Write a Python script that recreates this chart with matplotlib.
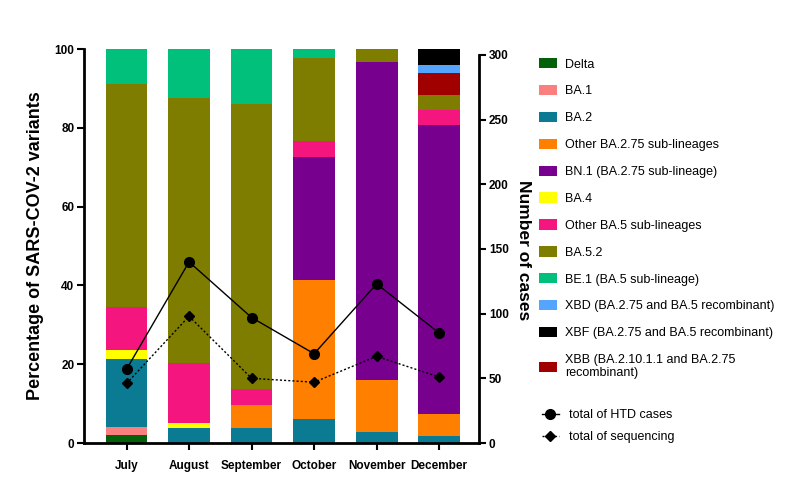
import matplotlib
matplotlib.use("Agg")
import matplotlib.pyplot as plt
from matplotlib.patches import Patch
from matplotlib.lines import Line2D
import numpy as np

plt.rcParams['font.family'] = ['Liberation Sans', 'DejaVu Sans']

months = ["July", "August", "September", "October", "November", "December"]

# percentages per variant (stacking order bottom -> top)
delta        = [2.0, 0, 0, 0, 0, 0]
ba1          = [2.0, 0, 0, 0, 0, 0]
ba2          = [17.4, 3.9, 3.7, 6.0, 2.9, 1.8]
other_ba275  = [0, 0, 5.9, 35.4, 13.2, 5.5]
bn1          = [0, 0, 0, 31.3, 80.6, 73.4]
ba4          = [2.1, 1.1, 0, 0, 0, 0]
other_ba5    = [11.0, 15.2, 4.0, 4.0, 0, 3.8]
ba52         = [56.5, 67.3, 72.4, 20.9, 3.3, 3.8]
be1          = [9.0, 12.5, 14.0, 2.4, 0, 0]
xbb          = [0, 0, 0, 0, 0, 5.5]
xbd          = [0, 0, 0, 0, 0, 2.1]
xbf          = [0, 0, 0, 0, 0, 4.1]

htd_cases    = [57, 140, 97, 69, 123, 85]
sequencing   = [46, 98, 50, 47, 67, 51]

labels = {
    "Delta": "Delta",
    "BA.1": "BA.1",
    "BA.2": "BA.2",
    "O275": "Other BA.2.75 sub-lineages",
    "BN.1": "BN.1 (BA.2.75 sub-lineage)",
    "BA.4": "BA.4",
    "O5": "Other BA.5 sub-lineages",
    "BA.5.2": "BA.5.2",
    "BE.1": "BE.1 (BA.5 sub-lineage)",
    "XBD": "XBD (BA.2.75 and BA.5 recombinant)",
    "XBF": "XBF (BA.2.75 and BA.5 recombinant)",
    "XBB": "XBB (BA.2.10.1.1 and BA.2.75\nrecombinant)",
}
colors = {
    "Delta": "#05600a",
    "BA.1": "#fa8080",
    "BA.2": "#0a7b92",
    "O275": "#ff8000",
    "BN.1": "#78008f",
    "BA.4": "#ffff00",
    "O5": "#f5157f",
    "BA.5.2": "#7f7d00",
    "BE.1": "#00c07c",
    "XBD": "#55a5ff",
    "XBF": "#000000",
    "XBB": "#a00000",
}
stack = [("Delta", delta), ("BA.1", ba1), ("BA.2", ba2), ("O275", other_ba275),
         ("BN.1", bn1), ("BA.4", ba4), ("O5", other_ba5), ("BA.5.2", ba52),
         ("BE.1", be1), ("XBB", xbb), ("XBD", xbd), ("XBF", xbf)]
legend_order = ["Delta", "BA.1", "BA.2", "O275", "BN.1", "BA.4", "O5",
                "BA.5.2", "BE.1", "XBD", "XBF", "XBB"]

fig = plt.figure(figsize=(8, 5), dpi=100)
ax = fig.add_axes([0.105, 0.114, 0.494, 0.788])
x = np.arange(len(months))
bottom = np.zeros(len(months))
for key, vals in stack:
    v = np.array(vals, dtype=float)
    ax.bar(x, v, bottom=bottom, width=0.667, color=colors[key], edgecolor='none')
    bottom += v

ax.set_xlim(-0.68, 5.64)
ax.set_ylim(0, 100)
ax.set_yticks([0, 20, 40, 60, 80, 100])
ax.set_xticks(x)
ax.set_xticklabels(months, fontsize=8.5, fontweight='bold')
for lab in ax.get_yticklabels():
    lab.set_fontweight('bold'); lab.set_fontsize(8.5)
ax.tick_params(axis='both', direction='out', length=5, width=1.5, pad=2)
ax.tick_params(axis='x', pad=7)
for s in ['top', 'right']:
    ax.spines[s].set_visible(False)
for s in ['left', 'bottom']:
    ax.spines[s].set_linewidth(2)
ax.set_ylabel("Percentage of SARS-COV-2 variants", fontsize=13, fontweight='bold')
ax.yaxis.set_label_coords(-0.1, 0.5)

ax2 = ax.twinx()
ax2.set_ylim(0, 304.6)
ax2.plot(x, htd_cases, color='black', lw=1.0, marker='o', markersize=7)
ax2.plot(x, sequencing, color='black', lw=1.0, ls=(0, (1.5, 1.5)), marker='D', markersize=5)
ax2.set_yticks([0, 50, 100, 150, 200, 250, 300])
for lab in ax2.get_yticklabels():
    lab.set_fontweight('bold'); lab.set_fontsize(8.5)
ax2.tick_params(axis='y', direction='out', length=5, width=1.5, pad=2)
for s in ['top', 'left', 'bottom']:
    ax2.spines[s].set_visible(False)
ax2.spines['right'].set_linewidth(2)
ax2.spines['right'].set_bounds(0, 300)
ax2.set_ylabel("Number of cases", fontsize=12.5, fontweight='bold', rotation=270,
               va='center')
ax2.yaxis.set_label_coords(1.112, 0.49)

handles = [Patch(facecolor=colors[k], edgecolor='none', label=labels[k]) for k in legend_order]
fig.legend(handles=handles, loc='upper left', bbox_to_anchor=(0.674, 0.884),
           frameon=False, fontsize=9, handlelength=1.4, handleheight=0.9,
           handletextpad=0.7, labelspacing=1.15, borderpad=0, borderaxespad=0)
lh = [Line2D([], [], color='black', lw=1.0, marker='o', markersize=7, label="total of HTD cases"),
      Line2D([], [], color='black', lw=1.0, ls=(0, (1.5, 1.5)), marker='D', markersize=5,
             label="total of sequencing")]
fig.legend(handles=lh, loc='upper left', bbox_to_anchor=(0.677, 0.182),
           frameon=False, fontsize=9, handlelength=1.4, handletextpad=0.8,
           labelspacing=0.8, borderpad=0, borderaxespad=0)

fig.savefig("out.png", dpi=100, facecolor='white')
